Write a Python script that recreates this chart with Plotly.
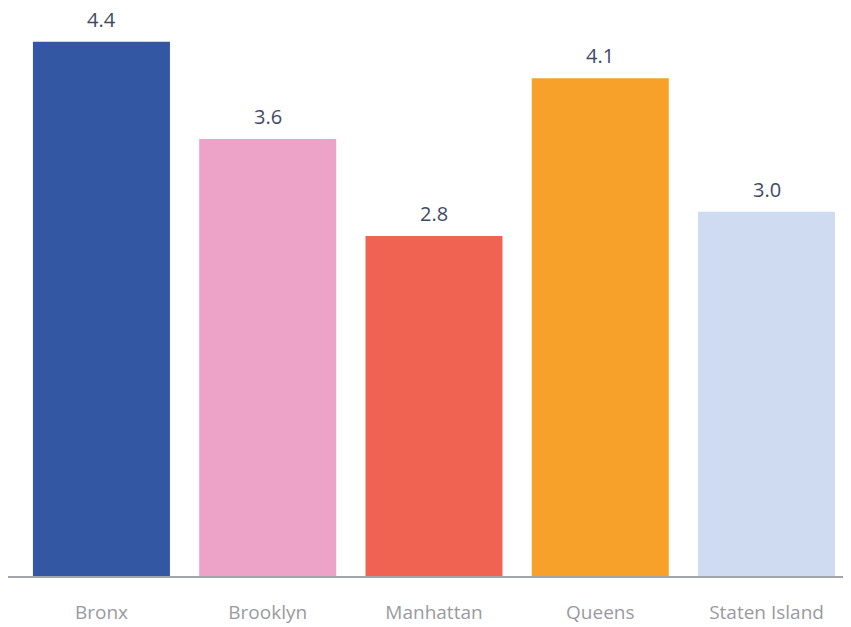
import plotly.graph_objects as go

categories = ["Bronx", "Brooklyn", "Manhattan", "Queens", "Staten Island"]
values = [4.4, 3.6, 2.8, 4.1, 3.0]
colors = ["#3457A4", "#EDA3C8", "#F06352", "#F8A12A", "#CFDBF1"]

fig = go.Figure()
fig.add_trace(go.Bar(
    x=list(range(len(categories))), y=values,
    marker=dict(color=colors, line=dict(width=0)),
    width=0.824, hoverinfo="skip",
))
for i, v in enumerate(values):
    fig.add_annotation(x=i, y=v, text=f"{v:.1f}", showarrow=False,
                       yanchor="bottom", yshift=8, borderpad=0,
                       font=dict(family="Open Sans", size=20, color="#3E4A68"))

fig.update_layout(
    width=843, height=619,
    margin=dict(l=0, r=0, t=12, b=51),
    paper_bgcolor="white", plot_bgcolor="white",
    showlegend=False,
    font=dict(family="Open Sans"),
    xaxis=dict(
        range=[-0.562, 4.508],
        tickmode="array", tickvals=list(range(len(categories))), ticktext=categories,
        showgrid=False, zeroline=False,
        showline=True, linecolor="#A3A3AA", linewidth=2,
        ticks="", ticklabelstandoff=18,
        tickfont=dict(family="Open Sans", size=19, color="#9A9A9F"),
    ),
    yaxis=dict(range=[0, 4.58], visible=False, showgrid=False, zeroline=False),
)
fig.write_html("out.html")
